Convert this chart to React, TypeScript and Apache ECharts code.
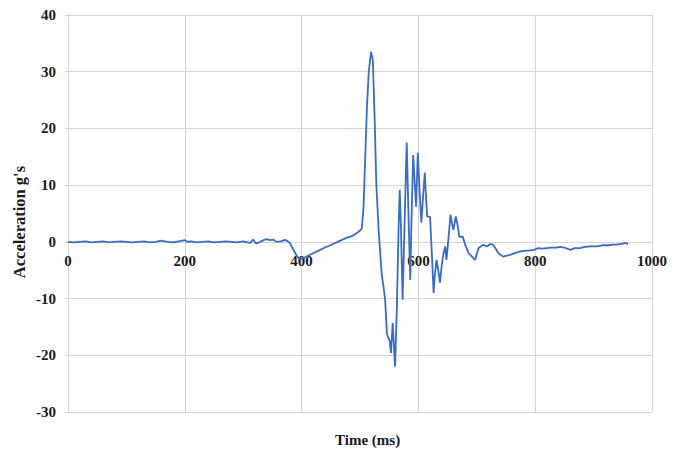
import React, { useEffect, useRef } from "react";
import * as echarts from "echarts";

const timesMs: number[] = [
  0, 10, 20, 30, 40, 50, 60, 70, 80, 90, 100, 110, 120, 130, 140, 150, 160, 170, 180, 190,
  200, 205, 210, 220, 230, 240, 250, 260, 270, 280, 290, 300, 307, 312, 317, 322, 329, 335,
  340, 346, 352, 357, 364, 372, 376, 380, 386, 392, 397, 403, 410, 420, 430, 440, 449, 460,
  470, 477, 486, 494, 500, 503, 506, 509, 512, 515, 519, 522, 525, 528, 532, 537, 541, 543,
  546, 548, 551, 553, 556, 560, 563, 566, 568, 570, 573, 576, 580, 583, 586, 588, 591, 594,
  596, 599, 602, 605, 608, 611, 613, 615, 620, 623, 626, 628, 631, 634, 637, 640, 643, 646,
  648, 651, 655, 658, 660, 664, 667, 670, 676, 680, 686, 691, 697, 703, 707, 711, 717, 723,
  728, 733, 737, 745, 757, 765, 774, 782, 791, 798, 805, 812, 820, 828, 837, 842, 850, 860,
  868, 877, 885, 895, 906, 915, 925, 933, 940, 950, 955, 959,
];

const accelG: number[] = [
  0, -0.1, 0, 0.1, -0.1, 0, 0.1, -0.1, 0, 0.1, 0, -0.1, 0, 0.1, -0.1, 0, 0.2, 0, -0.1, 0.1,
  0.3, 0, 0.1, -0.1, 0, 0.1, -0.1, 0, 0.1, 0, -0.1, 0.1, -0.1, -0.2, 0.4, -0.3, 0, 0.3,
  0.5, 0.3, 0.4, 0, 0.1, 0.35, 0.1, -0.2, -1.4, -2.5, -3.1, -2.9, -2.5, -2.0, -1.5, -1.0, -0.6, -0.1,
  0.4, 0.7, 1.0, 1.5, 2.0, 2.3, 6, 15, 24, 30, 33.5, 32, 22, 10, 2, -5.5, -8.5, -10.2,
  -16, -16.8, -17.5, -19.6, -14.3, -22, -12, 2, 9.2, 3, -10.2, 2, 17.5, 5, -6.7, 3, 15.3, 10,
  6.2, 15.7, 9, 3.4, 8, 12.2, 8, 4.5, 4.4, -2, -9.0, -6, -3.2, -5, -7.2, -4, -2, -0.8,
  -3.2, 0, 4.8, 3, 2.1, 4.5, 3, 0.9, 0.9, -0.5, -2, -2.5, -3.2, -1.1, -0.8, -0.5, -0.8, -0.4,
  -0.5, -1.3, -2, -2.6, -2.3, -2.0, -1.7, -1.6, -1.5, -1.4, -1.1, -1.2, -1.1, -1.0, -1.0, -0.9, -1.0, -1.4,
  -1.1, -1.1, -0.9, -0.8, -0.8, -0.6, -0.6, -0.5, -0.5, -0.3, -0.2, -0.4,
];

const xTitle = "Time (ms)";
const yTitle = "Acceleration g's";

const Y_MIN = -30;
const Y_MAX = 40;

export default function App() {
  const ref = useRef<HTMLDivElement>(null);
  useEffect(() => {
    if (!ref.current) return;
    const chart = echarts.init(ref.current, undefined, { renderer: "svg" });
    const font = "'Liberation Serif', 'Times New Roman', serif";
    const gridColor = "#d4d4d4";
    const textColor = "#1a1a1a";
    const top = 15;
    const bottom = 40;
    const plotH = 452 - top - bottom;
    const zeroOffset = -(plotH * (0 - Y_MIN)) / (Y_MAX - Y_MIN);
    chart.setOption({
      animation: false,
      backgroundColor: "#ffffff",
      grid: { left: 68, right: 31, top, bottom, containLabel: false, outerBoundsMode: "none" },
      xAxis: {
        type: "value",
        min: 0,
        max: 1000,
        interval: 200,
        offset: zeroOffset,
        axisLine: { show: true, onZero: false, lineStyle: { color: gridColor, width: 1 } },
        axisTick: { show: false },
        axisLabel: {
          margin: 12,
          fontFamily: font,
          fontWeight: "bold",
          fontSize: 15,
          color: textColor,
          formatter: (v: number) => String(v),
        },
        splitLine: { show: true, lineStyle: { color: gridColor, width: 1 } },
      },
      yAxis: {
        type: "value",
        min: Y_MIN,
        max: Y_MAX,
        interval: 10,
        axisLine: { show: true, lineStyle: { color: gridColor, width: 1 } },
        axisTick: { show: true, length: 3, lineStyle: { color: gridColor } },
        axisLabel: { margin: 12, fontFamily: font, fontWeight: "bold", fontSize: 15, color: textColor },
        splitLine: { show: true, lineStyle: { color: gridColor, width: 1 } },
      },
      graphic: [
        {
          type: "text",
          left: 335,
          top: 432,
          style: { text: xTitle, fontFamily: font, fontWeight: "bold", fontSize: 15, fill: textColor },
        },
        {
          type: "text",
          x: 19,
          y: 222,
          rotation: Math.PI / 2,
          style: {
            text: yTitle,
            fontFamily: font,
            fontWeight: "bold",
            fontSize: 16.5,
            fill: textColor,
            textAlign: "center",
            textVerticalAlign: "middle",
          },
        },
      ],
      series: [
        {
          type: "line",
          data: timesMs.map((t, i) => [t, accelG[i]]),
          showSymbol: false,
          symbol: "none",
          lineStyle: { color: "#3a6cc0", width: 1.8 },
          z: 1,
        },
      ],
    });
    return () => chart.dispose();
  }, []);
  return <div ref={ref} style={{ width: 683, height: 452, position: "absolute", left: 0, top: 0 }} />;
}
